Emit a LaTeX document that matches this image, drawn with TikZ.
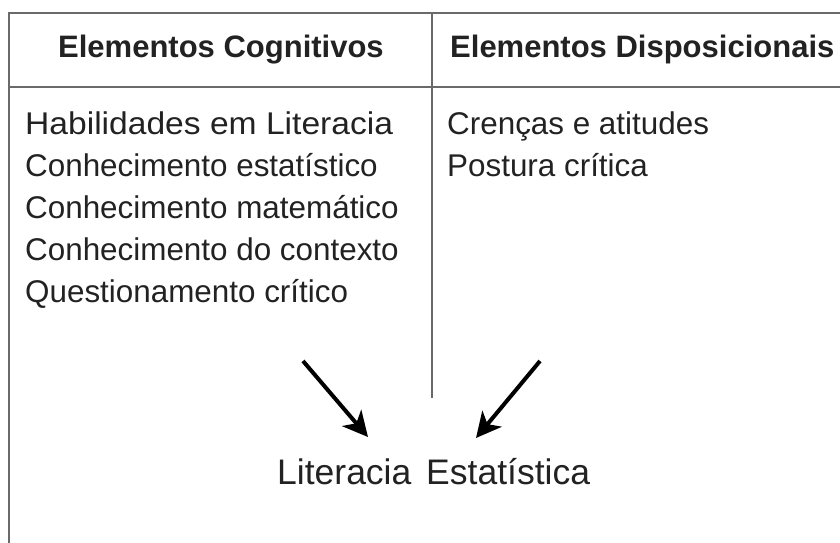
\documentclass[tikz,border=0pt]{standalone}
\usepackage{fontspec}
\setmainfont{Liberation Sans}
\usetikzlibrary{arrows.meta}
\definecolor{txt}{HTML}{222222}
\definecolor{rule}{HTML}{6A6A6A}
\begin{document}
\begin{tikzpicture}[x=1pt,y=-1pt,
  gridline/.style={draw=rule,line width=1.6pt},
  head/.style={anchor=base west,inner sep=0pt,text=txt,font=\fontsize{31}{31}\selectfont\bfseries},
  item/.style={anchor=base west,inner sep=0pt,text=txt,font=\fontsize{31.4}{31.4}\selectfont},
  result/.style={anchor=base west,inner sep=0pt,text=txt,font=\fontsize{35.5}{35.5}\selectfont},
  bigarrow/.style={draw=black,line width=4pt,-{Stealth[length=25pt,width=25pt,inset=7pt]}}]
\useasboundingbox (0,0) rectangle (840,543);
\fill[white] (0,0) rectangle (840,543);
% grid
\coordinate (tl) at (9,13);
\coordinate (tr) at (840,13);
\coordinate (bl) at (9,543);
\coordinate (hl) at (9,87);
\coordinate (hr) at (840,87);
\coordinate (mt) at (432,13);
\coordinate (mb) at (432,398);
\draw[gridline] (tr) -- (tl) -- (bl);
\draw[gridline] (hl) -- (hr);
\draw[gridline] (mt) -- (mb);
% headers
\node[head] (h1) at (58,58) {Elementos Cognitivos};
\node[head] (h2) at (450,58) {Elementos Disposicionais};
% left column
\node[item] (c1) at (25,134) {\scalebox{1.07}[1]{Habilidades em Literacia}};
\node[item] (c2) at (25,176) {Conhecimento estatístico};
\node[item] (c3) at (25,218) {Conhecimento matemático};
\node[item] (c4) at (25,260) {Conhecimento do contexto};
\node[item] (c5) at (25,302) {Questionamento crítico};
% right column
\node[item] (d1) at (447,134) {Crenças e atitudes};
\node[item] (d2) at (447,176) {Postura crítica};
% result
\node[result] (le) at (277,484) {Literacia\hspace{0.42em}Estatística};
% arrows
\coordinate (a1s) at (303,361);
\coordinate (a1e) at (368,437);
\coordinate (a2s) at (540,361);
\coordinate (a2e) at (476,438);
\draw[bigarrow] (a1s) -- (a1e);
\draw[bigarrow] (a2s) -- (a2e);
\end{tikzpicture}
\end{document}
